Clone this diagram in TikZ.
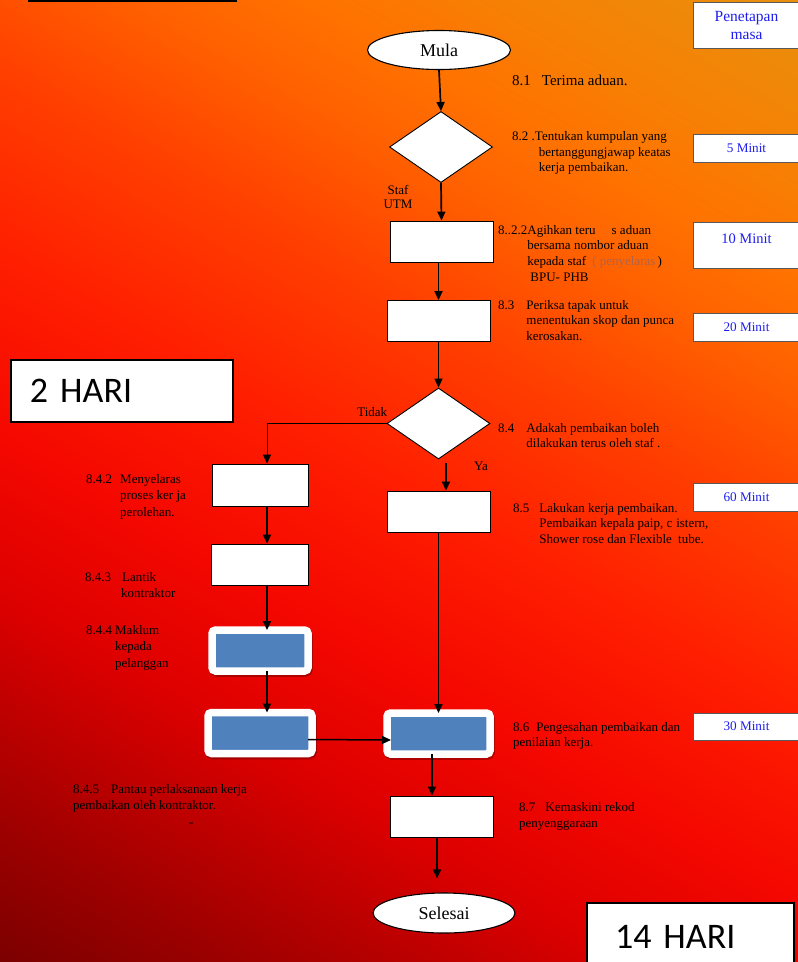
\documentclass[tikz,border=0pt]{standalone}
\usepackage{fontspec}
\setmainfont{Liberation Serif}
\newfontfamily\harifont{Carlito}
\usetikzlibrary{shapes.geometric, arrows.meta, shadows}

\definecolor{boxblue}{RGB}{79,129,189}
\definecolor{minitblue}{RGB}{30,30,240}
\definecolor{penyelarascol}{RGB}{170,100,80}

% gradien latar: merah gelap (kiri bawah) -> merah -> jingga (kanan atas)
\pgfdeclareverticalshading{latarshade}{100bp}{rgb(0bp)=(0.49,0,0); rgb(16bp)=(0.49,0,0); rgb(22bp)=(0.61,0,0); rgb(33bp)=(0.86,0,0); rgb(41bp)=(0.96,0.03,0); rgb(50bp)=(1,0.12,0); rgb(59bp)=(1,0.25,0); rgb(66bp)=(1,0.38,0); rgb(71bp)=(1,0.45,0); rgb(77bp)=(0.96,0.51,0.02); rgb(84bp)=(0.91,0.56,0.05); rgb(100bp)=(0.91,0.56,0.05)}

\begin{document}
\begin{tikzpicture}[
        x=1pt, y=-1pt,
        terminal/.style={ellipse, draw, line width=1.1pt, fill=white, minimum width=143pt, minimum height=39pt, inner sep=0pt, font=\fontsize{18}{20}\selectfont},
        decision/.style={diamond, draw, line width=0.9pt, fill=white, minimum width=103pt, minimum height=71pt, inner sep=0pt},
        process/.style={rectangle, draw, line width=0.9pt, fill=white, minimum width=103pt, minimum height=41pt, inner sep=0pt},
        bluebox/.style={rectangle, draw=white, fill=boxblue, line width=7.5pt, rounded corners=3.5pt, minimum width=96pt, minimum height=41pt, inner sep=0pt, outer sep=0pt, drop shadow={shadow xshift=1pt, shadow yshift=-2pt, opacity=0.25, draw=black, line width=7.5pt}},
        timebox/.style={rectangle, draw=black!65, line width=0.8pt, fill=white, minimum width=107pt, inner sep=0pt, text=minitblue, font=\fontsize{13.2}{16}\selectfont},
        hari/.style={rectangle, draw, line width=2pt, fill=white, align=left, font=\harifont\fontsize{36}{40}\selectfont},
        step_text/.style={anchor=base west, inner sep=0pt, font=\fontsize{13}{15.7}\selectfont},
        label_text/.style={inner sep=0pt, align=center, font=\fontsize{13}{14.5}\selectfont},
        flow_edge/.style={-{Triangle[length=9pt, width=8pt]}, line width=1.7pt}
    ]

    % Latar belakang
    \useasboundingbox (0,0) rectangle (798,962);
    \clip (0,0) rectangle (798,962);
    \shade[shading=latarshade, shading angle=-30] (0,0) rectangle (798,962);
    \draw[line width=2pt] (28,1) -- (237,1);

    % Kotak penetapan masa (kanan)
    \node[timebox, minimum height=46pt, align=center, font=\fontsize{15.5}{18}\selectfont] (masa) at (746.5,25) {Penetapan\\masa};
    \node[timebox, minimum height=28pt] (m5) at (746.5,148) {5 Minit};
    \node[timebox, minimum height=46pt, font=\fontsize{14.5}{16}\selectfont, text height=10pt, text depth=14pt] (m10) at (746.5,245) {10 Minit};
    \node[timebox, minimum height=28pt] (m20) at (746.5,327) {20 Minit};
    \node[timebox, minimum height=28pt] (m60) at (746.5,497) {60 Minit};
    \node[timebox, minimum height=27pt] (m30) at (746.5,726.5) {30 Minit};

    % Jumlah hari
    \node[hari, minimum height=62pt, text width=184pt, inner xsep=19pt] (hari2) at (122,391) {2 HARI};
    \node[hari, minimum height=68pt, text width=151pt, inner xsep=28pt] (hari14) at (690.5,937) {14 HARI};

    % Aliran utama
    \node[terminal] (mula) at (439,50) {Mula};
    \node[decision] (d1) at (441,147) {};
    \node[process] (b1) at (441.5,241.5) {};
    \node[process] (b2) at (438.5,321) {};
    \node[decision] (d2) at (438.5,423.5) {};
    \node[process] (b5) at (438.5,511.5) {};
    \node[bluebox, minimum width=103pt] (b6) at (438.5,733.5) {};
    \node[process] (b7) at (441.5,816.5) {};
    \node[terminal, minimum width=142pt, minimum height=40pt] (selesai) at (444,913) {Selesai};

    % Cabang kontraktor (kiri)
    \node[process, minimum width=96pt, minimum height=42pt] (b42) at (260,485) {};
    \node[process, minimum width=97pt] (b43) at (259.5,564.5) {};
    \node[bluebox] (b44) at (260,650.5) {};
    \node[bluebox, minimum width=104pt] (b45) at (260,733) {};

    % Penerangan langkah
    \node[step_text, font=\fontsize{15}{18}\selectfont] (t81) at (512,85) {8.1\hspace{11pt}Terima aduan.};
    \node[step_text] (t82) at (512,140.5) {\begin{tabular}[t]{@{}l@{}l@{}}8.2 .&Tentukan kumpulan yang\\ &\hspace{4pt}bertanggungjawap keatas\\ &\hspace{4pt}kerja pembaikan.\end{tabular}};
    \node[step_text] (t822) at (498,234) {\begin{tabular}[t]{@{}l@{}l@{}}8..2.2&Agihkan teru\hspace{16pt}s aduan\\ &bersama nombor aduan\\ &kepada staf\hspace{6pt}{\color{penyelarascol}( penyelaras}\,)\\ &\hspace{3pt}BPU- PHB\end{tabular}};
    \node[step_text] (t83) at (498,309) {\begin{tabular}[t]{@{}l@{\hspace{12pt}}l@{}}8.3&Periksa tapak untuk\\ &menentukan skop dan punca\\ &kerosakan.\end{tabular}};
    \node[step_text] (t84) at (498,432) {\begin{tabular}[t]{@{}l@{\hspace{12pt}}l@{}}8.4&Adakah pembaikan boleh\\ &dilakukan terus oleh staf .\end{tabular}};
    \node[step_text] (t85) at (513,512) {\begin{tabular}[t]{@{}l@{\hspace{10pt}}l@{}}8.5&Lakukan kerja pembaikan.\\ &Pembaikan kepala paip, c\hspace{4pt}istern,\\ &Shower rose dan Flexible\hspace{3pt} tube.\end{tabular}};
    \node[step_text] (t86) at (513,731) {\begin{tabular}[t]{@{}l@{}}8.6\hspace{7pt}Pengesahan pembaikan dan\\penilaian kerja.\end{tabular}};
    \node[step_text, font=\fontsize{13}{16}\selectfont] (t87) at (519,811) {\begin{tabular}[t]{@{}l@{}}8.7\hspace{10pt}Kemaskini rekod\\penyenggaraan\end{tabular}};
    \node[step_text, font=\fontsize{13}{16.5}\selectfont] (t842) at (86,483) {\begin{tabular}[t]{@{}l@{\hspace{8pt}}l@{}}8.4.2&Menyelaras\\ &proses ker ja\\ &perolehan.\end{tabular}};
    \node[step_text, font=\fontsize{13}{16.5}\selectfont] (t843) at (85,581) {\begin{tabular}[t]{@{}l@{\hspace{10pt}}l@{}}8.4.3&\hspace{1pt}Lantik\\ &kontraktor\end{tabular}};
    \node[step_text, font=\fontsize{13}{16.5}\selectfont] (t844) at (86,634) {\begin{tabular}[t]{@{}l@{\hspace{3pt}}l@{}}8.4.4&Maklum\\ &kepada\\ &pelanggan\end{tabular}};
    \node[step_text, font=\fontsize{13}{16.5}\selectfont] (t845) at (73,793) {\begin{tabular}[t]{@{}l@{}}8.4.5\hspace{12pt}Pantau perlaksanaan kerja\\pembaikan oleh kontraktor.\\\hspace*{116pt}-\end{tabular}};
    \node[label_text] (staf) at (398,197) {Staf\\UTM};
    \node[label_text] (ya) at (481,466) {Ya};

    % Anak panah aliran utama
    \draw[flow_edge] (mula.south) -- (d1.north);
    \draw[flow_edge] (d1.south) -- (b1.north);
    \draw[flow_edge] (b2.north |- b1.south) -- (b2.north);
    \draw[flow_edge] (b2.south) -- (d2.north);
    \coordinate (ya_start) at (446,463);
    \draw[flow_edge] (ya_start) -- (ya_start |- b5.north);
    \draw[flow_edge] (b5.south) -- (b6.north);
    \draw[flow_edge] ([xshift=-6.5pt]b6.south) -- ([xshift=-6.5pt]b6.south |- b7.north);
    \draw[flow_edge] ([xshift=-4.5pt]b7.south) -- ([xshift=-4.5pt, yshift=14pt]b7.south |- selesai.north);

    % Anak panah cabang kiri
    \draw[flow_edge, line width=1pt] (d2.west) -| ([xshift=7pt]b42.north) node[pos=0.06, above=6pt, label_text] {Tidak};
    \draw[flow_edge] ([xshift=7pt]b42.south) -- ([xshift=7pt]b42.south |- b43.north);
    \draw[flow_edge] ([xshift=7.5pt]b43.south) -- ([xshift=7.5pt]b43.south |- b44.north);
    \draw[flow_edge] ([xshift=7pt]b44.south) -- ([xshift=7pt]b44.south |- b45.north);
    \draw[flow_edge, line width=1.5pt] ([xshift=-4pt, yshift=-6.5pt]b45.east) -- ([xshift=4pt, yshift=-6.5pt]b6.west);

\end{tikzpicture}
\end{document}
